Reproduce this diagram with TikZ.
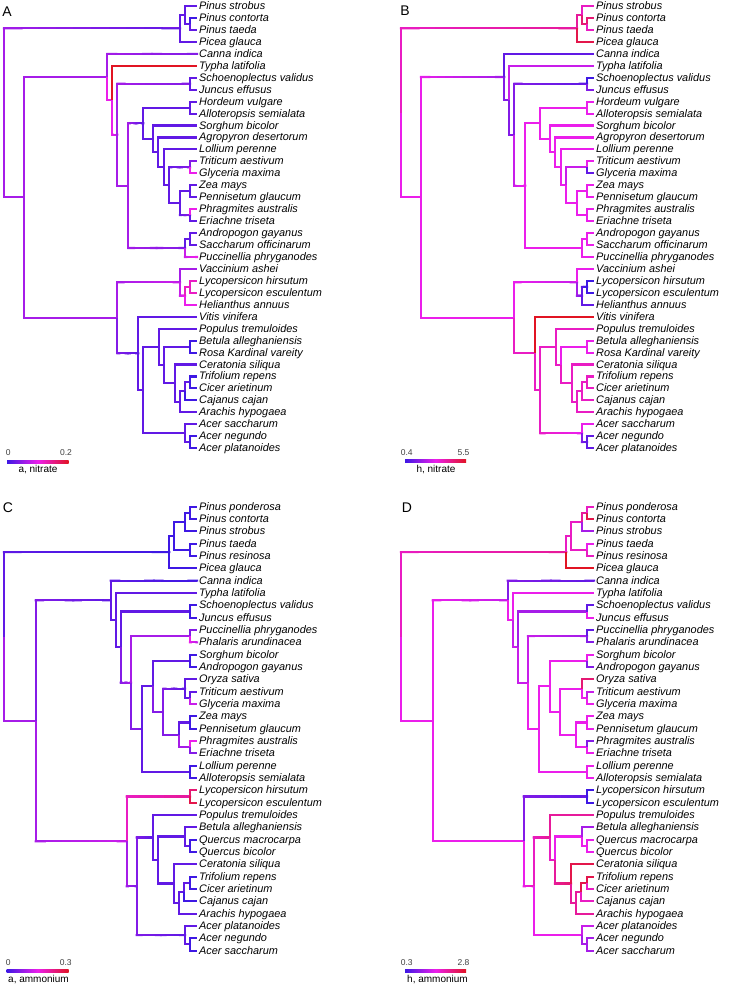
\documentclass[tikz,border=0pt]{standalone}
\usepackage{fontspec}
\setmainfont{Liberation Sans}
\usetikzlibrary{calc}
\definecolor{cB}{RGB}{62,24,228}
\definecolor{cM}{RGB}{235,30,235}
\definecolor{cR}{RGB}{225,20,35}
\colorlet{L0}{cB}
\colorlet{L1}{cM!20!cB}
\colorlet{L2}{cM!40!cB}
\colorlet{L3}{cM!60!cB}
\colorlet{L4}{cM!80!cB}
\colorlet{L5}{cM}
\colorlet{L6}{cR!20!cM}
\colorlet{L7}{cR!40!cM}
\colorlet{L8}{cR!60!cM}
\colorlet{L9}{cR!80!cM}
\colorlet{L10}{cR}
\tikzset{
  vl/.style={line width=2.1pt},
  hl/.style={line width=2.1pt,line cap=rect},
  lf/.style={anchor=west,inner xsep=2pt,inner ysep=0pt,text height=8pt,text depth=1pt,
    font=\fontsize{10.9}{12}\selectfont\itshape},
  plab/.style={font=\fontsize{14}{14}\selectfont,inner sep=0pt},
  num/.style={font=\fontsize{8.5}{9}\selectfont,text=black!75,inner sep=0pt},
  ltit/.style={font=\fontsize{10}{11}\selectfont,inner sep=0pt}
}
\newcommand\pf{a}
\newcommand\brI[4]{%
  \draw[vl,L#3] (\pf-#1) |- (\pf-#2);
  \ifnum#3=#4\relax\else
  \foreach \k in {1,...,10}{%
    \pgfmathtruncatemacro\pc{\k*10}%
    \draw[hl,L#4!\pc!L#3] ($(\pf-#1 |- \pf-#2)!{(\k-1)/10}!(\pf-#2)$) -- ($(\pf-#1 |- \pf-#2)!{\k/10}!(\pf-#2)$);}%
  \fi}
\newcommand\brL[4]{\brI{#1}{#2.west}{#3}{#4}}
\newcommand\Lf[3]{\node[lf] (\pf-#1) at (197,#2) {#3};}
\newcommand\TreeOne{%
\coordinate (\pf-R) at (4,8.947);
\coordinate (\pf-Gym) at (180,1.875);
\coordinate (\pf-P1) at (185,0.75);
\coordinate (\pf-P2) at (190,1.5);
\coordinate (\pf-Ang) at (24,16.019);
\coordinate (\pf-Mono) at (107.3,5.941);
\coordinate (\pf-X) at (112.3,7.883);
\coordinate (\pf-Y) at (117.3,10.766);
\coordinate (\pf-SJ) at (190,6.5);
\coordinate (\pf-G) at (128.3,15.031);
\coordinate (\pf-H) at (143.3,9.8125);
\coordinate (\pf-HA) at (190,8.5);
\coordinate (\pf-S) at (153.3,11.125);
\coordinate (\pf-Ag) at (158.3,12.25);
\coordinate (\pf-Lo) at (164,13.5);
\coordinate (\pf-TZ) at (169.3,15);
\coordinate (\pf-TG) at (190,13.5);
\coordinate (\pf-ZPPE) at (180,16.5);
\coordinate (\pf-ZP) at (190,15.5);
\coordinate (\pf-PE) at (190,17.5);
\coordinate (\pf-APS) at (185,20.25);
\coordinate (\pf-AS) at (190,19.5);
\coordinate (\pf-Eud) at (117.3,26.096);
\coordinate (\pf-Aster) at (180,23.125);
\coordinate (\pf-LH) at (185,24.25);
\coordinate (\pf-LL) at (190,23.5);
\coordinate (\pf-Ros) at (138.3,29.066);
\coordinate (\pf-Rest) at (143.3,32.133);
\coordinate (\pf-FB) at (159.3,28.516);
\coordinate (\pf-Q) at (164.3,30.031);
\coordinate (\pf-BR) at (190,28.5);
\coordinate (\pf-Fab) at (175,31.5625);
\coordinate (\pf-F2) at (180,33.125);
\coordinate (\pf-F3) at (185,32.25);
\coordinate (\pf-TC) at (190,31.5);
\coordinate (\pf-Acer) at (185,35.75);
\coordinate (\pf-AN) at (190,36.5);
\Lf{strobus}{0}{Pinus strobus}
\Lf{contorta}{1}{Pinus contorta}
\Lf{taeda}{2}{Pinus taeda}
\Lf{picea}{3}{Picea glauca}
\Lf{canna}{4}{Canna indica}
\Lf{typha}{5}{Typha latifolia}
\Lf{schoeno}{6}{Schoenoplectus validus}
\Lf{juncus}{7}{Juncus effusus}
\Lf{hordeum}{8}{Hordeum vulgare}
\Lf{allot}{9}{Alloteropsis semialata}
\Lf{sorghum}{10}{Sorghum bicolor}
\Lf{agropyron}{11}{Agropyron desertorum}
\Lf{lollium}{12}{Lollium perenne}
\Lf{triticum}{13}{Triticum aestivum}
\Lf{glyceria}{14}{Glyceria maxima}
\Lf{zea}{15}{Zea mays}
\Lf{penn}{16}{Pennisetum glaucum}
\Lf{phrag}{17}{Phragmites australis}
\Lf{eriachne}{18}{Eriachne triseta}
\Lf{andro}{19}{Andropogon gayanus}
\Lf{sacch}{20}{Saccharum officinarum}
\Lf{pucc}{21}{Puccinellia phryganodes}
\Lf{vacc}{22}{Vaccinium ashei}
\Lf{lycoh}{23}{Lycopersicon hirsutum}
\Lf{lycoe}{24}{Lycopersicon esculentum}
\Lf{helian}{25}{Helianthus annuus}
\Lf{vitis}{26}{Vitis vinifera}
\Lf{populus}{27}{Populus tremuloides}
\Lf{betula}{28}{Betula alleghaniensis}
\Lf{rosa}{29}{Rosa Kardinal vareity}
\Lf{cerat}{30}{Ceratonia siliqua}
\Lf{trif}{31}{Trifolium repens}
\Lf{cicer}{32}{Cicer arietinum}
\Lf{cajanus}{33}{Cajanus cajan}
\Lf{arachis}{34}{Arachis hypogaea}
\Lf{acsac}{35}{Acer saccharum}
\Lf{acneg}{36}{Acer negundo}
\Lf{acpla}{37}{Acer platanoides}
}
\newcommand\TreeTwo{%
\coordinate (\pf-R) at (4,10.53);
\coordinate (\pf-Gym) at (169.3,3.6875);
\coordinate (\pf-P) at (174,2.375);
\coordinate (\pf-PPCS) at (185,1.25);
\coordinate (\pf-PC) at (190,0.5);
\coordinate (\pf-TR) at (190,3.5);
\coordinate (\pf-Ang) at (35.7,17.370);
\coordinate (\pf-Mono) at (110.7,7.596);
\coordinate (\pf-X) at (115.7,9.191);
\coordinate (\pf-Y) at (120.7,11.383);
\coordinate (\pf-SJ) at (190,8.5);
\coordinate (\pf-Z) at (131,14.266);
\coordinate (\pf-PP) at (190,10.5);
\coordinate (\pf-W) at (141.7,18.031);
\coordinate (\pf-LA) at (190,21.5);
\coordinate (\pf-V) at (152.7,14.5625);
\coordinate (\pf-SA) at (190,12.5);
\coordinate (\pf-U) at (163.3,16.625);
\coordinate (\pf-OTG) at (185,14.75);
\coordinate (\pf-TG) at (190,15.5);
\coordinate (\pf-ZPPE) at (179.3,18.5);
\coordinate (\pf-ZP) at (190,17.5);
\coordinate (\pf-PE) at (190,19.5);
\coordinate (\pf-Eud) at (126.7,27.145);
\coordinate (\pf-LL) at (190,23.5);
\coordinate (\pf-Ros) at (136.7,30.789);
\coordinate (\pf-FB) at (152.7,26.828);
\coordinate (\pf-Q) at (158,28.656);
\coordinate (\pf-BQQ) at (185,26.75);
\coordinate (\pf-QQ) at (190,27.5);
\coordinate (\pf-Fab) at (174,30.5625);
\coordinate (\pf-F2) at (179.3,32.125);
\coordinate (\pf-F3) at (184,31.25);
\coordinate (\pf-TC) at (190,30.5);
\coordinate (\pf-Acer) at (185,34.75);
\coordinate (\pf-AN) at (190,35.5);
\Lf{ponderosa}{0}{Pinus ponderosa}
\Lf{contorta}{1}{Pinus contorta}
\Lf{strobus}{2}{Pinus strobus}
\Lf{taeda}{3}{Pinus taeda}
\Lf{resinosa}{4}{Pinus resinosa}
\Lf{picea}{5}{Picea glauca}
\Lf{canna}{6}{Canna indica}
\Lf{typha}{7}{Typha latifolia}
\Lf{schoeno}{8}{Schoenoplectus validus}
\Lf{juncus}{9}{Juncus effusus}
\Lf{pucc}{10}{Puccinellia phryganodes}
\Lf{phalaris}{11}{Phalaris arundinacea}
\Lf{sorghum}{12}{Sorghum bicolor}
\Lf{andro}{13}{Andropogon gayanus}
\Lf{oryza}{14}{Oryza sativa}
\Lf{triticum}{15}{Triticum aestivum}
\Lf{glyceria}{16}{Glyceria maxima}
\Lf{zea}{17}{Zea mays}
\Lf{penn}{18}{Pennisetum glaucum}
\Lf{phrag}{19}{Phragmites australis}
\Lf{eriachne}{20}{Eriachne triseta}
\Lf{lollium}{21}{Lollium perenne}
\Lf{allot}{22}{Alloteropsis semialata}
\Lf{lycoh}{23}{Lycopersicon hirsutum}
\Lf{lycoe}{24}{Lycopersicon esculentum}
\Lf{populus}{25}{Populus tremuloides}
\Lf{betula}{26}{Betula alleghaniensis}
\Lf{qmac}{27}{Quercus macrocarpa}
\Lf{qbic}{28}{Quercus bicolor}
\Lf{cerat}{29}{Ceratonia siliqua}
\Lf{trif}{30}{Trifolium repens}
\Lf{cicer}{31}{Cicer arietinum}
\Lf{cajanus}{32}{Cajanus cajan}
\Lf{arachis}{33}{Arachis hypogaea}
\Lf{acpla}{34}{Acer platanoides}
\Lf{acneg}{35}{Acer negundo}
\Lf{acsac}{36}{Acer saccharum}
}
\begin{document}
\begin{tikzpicture}[x=1pt,y=-1pt]
\path[use as bounding box] (0,0) rectangle (745,985);
% ---------------- Panel A
\begin{scope}[shift={(0,6)},y=-11.95pt]
\renewcommand\pf{a}
\TreeOne
\brI{R}{Gym}{3}{1}
\brI{Gym}{P1}{1}{1}
\brL{Gym}{picea}{1}{1}
\brL{P1}{strobus}{1}{1}
\brI{P1}{P2}{1}{1}
\brL{P2}{contorta}{0}{0}
\brL{P2}{taeda}{1}{1}
\brI{R}{Ang}{3}{3}
\brI{Ang}{Mono}{3}{3}
\brL{Mono}{canna}{3}{2}
\brI{Mono}{X}{5}{5}
\brL{X}{typha}{10}{10}
\brI{X}{Y}{5}{4}
\brI{Y}{SJ}{3}{2}
\brL{SJ}{schoeno}{1}{1}
\brL{SJ}{juncus}{1}{1}
\brI{Y}{G}{3}{3}
\brI{G}{H}{3}{1}
\brI{H}{HA}{1}{1}
\brL{HA}{hordeum}{1}{1}
\brL{HA}{allot}{1}{1}
\brI{H}{S}{1}{1}
\brL{S}{sorghum}{1}{1}
\brI{S}{Ag}{1}{1}
\brL{Ag}{agropyron}{1}{1}
\brI{Ag}{Lo}{1}{1}
\brL{Lo}{lollium}{1}{1}
\brI{Lo}{TZ}{1}{1}
\brI{TZ}{TG}{1}{2}
\brL{TG}{triticum}{2}{2}
\brL{TG}{glyceria}{5}{5}
\brI{TZ}{ZPPE}{1}{1}
\brI{ZPPE}{ZP}{1}{1}
\brL{ZP}{zea}{1}{1}
\brL{ZP}{penn}{1}{1}
\brI{ZPPE}{PE}{1}{2}
\brL{PE}{phrag}{5}{5}
\brL{PE}{eriachne}{1}{1}
\brI{G}{APS}{3}{2}
\brI{APS}{AS}{1}{1}
\brL{AS}{andro}{1}{1}
\brL{AS}{sacch}{1}{1}
\brL{APS}{pucc}{4}{5}
\brI{Ang}{Eud}{3}{3}
\brI{Eud}{Aster}{3}{4}
\brL{Aster}{vacc}{3}{3}
\brI{Aster}{LH}{4}{5}
\brI{LH}{LL}{6}{6}
\brL{LL}{lycoh}{6}{6}
\brL{LL}{lycoe}{6}{6}
\brL{LH}{helian}{5}{5}
\brI{Eud}{Ros}{2}{1}
\brL{Ros}{vitis}{1}{1}
\brI{Ros}{Rest}{1}{1}
\brI{Rest}{FB}{1}{1}
\brL{FB}{populus}{1}{1}
\brI{FB}{Q}{1}{1}
\brI{Q}{BR}{1}{1}
\brL{BR}{betula}{0}{0}
\brL{BR}{rosa}{0}{0}
\brI{Q}{Fab}{1}{1}
\brL{Fab}{cerat}{1}{1}
\brI{Fab}{F2}{1}{1}
\brI{F2}{F3}{1}{1}
\brI{F3}{TC}{1}{1}
\brL{TC}{trif}{0}{0}
\brL{TC}{cicer}{0}{0}
\brL{F3}{cajanus}{0}{0}
\brL{F2}{arachis}{1}{1}
\brI{Rest}{Acer}{1}{1}
\brL{Acer}{acsac}{1}{1}
\brI{Acer}{AN}{1}{1}
\brL{AN}{acneg}{0}{0}
\brL{AN}{acpla}{0}{0}
\end{scope}
% ---------------- Panel B
\begin{scope}[shift={(397,6)},y=-11.95pt]
\renewcommand\pf{b}
\TreeOne
\brI{R}{Gym}{6}{7}
\brI{Gym}{P1}{7}{7}
\brL{Gym}{picea}{9}{9}
\brL{P1}{strobus}{6}{6}
\brI{P1}{P2}{8}{8}
\brL{P2}{contorta}{8}{8}
\brL{P2}{taeda}{6}{6}
\brI{R}{Ang}{5}{5}
\brI{Ang}{Mono}{5}{3}
\brL{Mono}{canna}{1}{1}
\brI{Mono}{X}{2}{2}
\brL{X}{typha}{4}{4}
\brI{X}{Y}{2}{2}
\brI{Y}{SJ}{2}{1}
\brL{SJ}{schoeno}{0}{0}
\brL{SJ}{juncus}{2}{2}
\brI{Y}{G}{4}{5}
\brI{G}{H}{5}{5}
\brI{H}{HA}{5}{5}
\brL{HA}{hordeum}{5}{5}
\brL{HA}{allot}{5}{5}
\brI{H}{S}{5}{5}
\brL{S}{sorghum}{5}{5}
\brI{S}{Ag}{5}{5}
\brL{Ag}{agropyron}{5}{5}
\brI{Ag}{Lo}{5}{5}
\brL{Lo}{lollium}{5}{5}
\brI{Lo}{TZ}{5}{5}
\brI{TZ}{TG}{4}{4}
\brL{TG}{triticum}{5}{5}
\brL{TG}{glyceria}{1}{1}
\brI{TZ}{ZPPE}{5}{5}
\brI{ZPPE}{ZP}{5}{5}
\brL{ZP}{zea}{5}{5}
\brL{ZP}{penn}{5}{5}
\brI{ZPPE}{PE}{5}{5}
\brL{PE}{phrag}{5}{5}
\brL{PE}{eriachne}{5}{5}
\brI{G}{APS}{5}{5}
\brI{APS}{AS}{5}{5}
\brL{AS}{andro}{5}{5}
\brL{AS}{sacch}{5}{5}
\brL{APS}{pucc}{5}{5}
\brI{Ang}{Eud}{5}{5}
\brI{Eud}{Aster}{5}{4}
\brL{Aster}{vacc}{5}{5}
\brI{Aster}{LH}{3}{2}
\brI{LH}{LL}{1}{0}
\brL{LL}{lycoh}{0}{0}
\brL{LL}{lycoe}{0}{0}
\brL{LH}{helian}{1}{1}
\brI{Eud}{Ros}{6}{6}
\brL{Ros}{vitis}{10}{10}
\brI{Ros}{Rest}{6}{6}
\brI{Rest}{FB}{6}{6}
\brL{FB}{populus}{6}{6}
\brI{FB}{Q}{6}{6}
\brI{Q}{BR}{5}{5}
\brL{BR}{betula}{5}{5}
\brL{BR}{rosa}{5}{5}
\brI{Q}{Fab}{6}{6}
\brL{Fab}{cerat}{6}{6}
\brI{Fab}{F2}{6}{6}
\brI{F2}{F3}{6}{6}
\brI{F3}{TC}{6}{6}
\brL{TC}{trif}{6}{6}
\brL{TC}{cicer}{6}{6}
\brL{F3}{cajanus}{6}{6}
\brL{F2}{arachis}{6}{6}
\brI{Rest}{Acer}{6}{5}
\brL{Acer}{acsac}{5}{5}
\brI{Acer}{AN}{2}{1}
\brL{AN}{acneg}{1}{1}
\brL{AN}{acpla}{1}{1}
\end{scope}
% ---------------- Panel C
\begin{scope}[shift={(0,506.7)},y=-12.33pt]
\renewcommand\pf{c}
\TreeTwo
\brI{R}{Gym}{1}{0}
\brI{Gym}{P}{0}{0}
\brL{Gym}{picea}{0}{0}
\brI{P}{PPCS}{0}{0}
\brI{P}{TR}{0}{0}
\brI{PPCS}{PC}{0}{0}
\brL{PC}{ponderosa}{0}{0}
\brL{PC}{contorta}{0}{0}
\brL{PPCS}{strobus}{0}{0}
\brL{TR}{taeda}{0}{0}
\brL{TR}{resinosa}{0}{0}
\brI{R}{Ang}{3}{3}
\brI{Ang}{Mono}{2}{1}
\brL{Mono}{canna}{1}{0}
\brI{Mono}{X}{1}{1}
\brL{X}{typha}{1}{1}
\brI{X}{Y}{1}{1}
\brI{Y}{SJ}{1}{1}
\brL{SJ}{schoeno}{0}{0}
\brL{SJ}{juncus}{0}{0}
\brI{Y}{Z}{2}{3}
\brI{Z}{PP}{3}{3}
\brL{PP}{pucc}{2}{2}
\brL{PP}{phalaris}{5}{4}
\brI{Z}{W}{2}{2}
\brI{W}{V}{1}{1}
\brI{V}{SA}{1}{1}
\brL{SA}{sorghum}{0}{0}
\brL{SA}{andro}{0}{0}
\brI{V}{U}{2}{2}
\brI{U}{OTG}{2}{1}
\brL{OTG}{oryza}{1}{1}
\brI{OTG}{TG}{1}{1}
\brL{TG}{triticum}{1}{1}
\brL{TG}{glyceria}{4}{4}
\brI{U}{ZPPE}{2}{2}
\brI{ZPPE}{ZP}{1}{1}
\brL{ZP}{zea}{0}{0}
\brL{ZP}{penn}{0}{0}
\brI{ZPPE}{PE}{3}{3}
\brL{PE}{phrag}{5}{5}
\brL{PE}{eriachne}{2}{2}
\brI{W}{LA}{1}{1}
\brL{LA}{lollium}{0}{0}
\brL{LA}{allot}{0}{0}
\brI{Ang}{Eud}{3}{4}
\brI{Eud}{LL}{6}{7}
\brL{LL}{lycoh}{8}{8}
\brL{LL}{lycoe}{9}{9}
\brI{Eud}{Ros}{3}{2}
\brI{Ros}{FB}{2}{1}
\brL{FB}{populus}{1}{1}
\brI{FB}{Q}{1}{1}
\brI{Q}{BQQ}{1}{1}
\brL{BQQ}{betula}{1}{1}
\brI{BQQ}{QQ}{1}{1}
\brL{QQ}{qmac}{0}{0}
\brL{QQ}{qbic}{0}{0}
\brI{Q}{Fab}{1}{1}
\brL{Fab}{cerat}{1}{1}
\brI{Fab}{F2}{1}{1}
\brI{F2}{F3}{1}{1}
\brI{F3}{TC}{1}{1}
\brL{TC}{trif}{0}{0}
\brL{TC}{cicer}{0}{0}
\brL{F3}{cajanus}{0}{0}
\brL{F2}{arachis}{1}{1}
\brI{Ros}{Acer}{2}{1}
\brL{Acer}{acpla}{1}{1}
\brI{Acer}{AN}{1}{1}
\brL{AN}{acneg}{0}{0}
\brL{AN}{acsac}{0}{0}
\end{scope}
% ---------------- Panel D
\begin{scope}[shift={(397,506.7)},y=-12.33pt]
\renewcommand\pf{d}
\TreeTwo
\brI{R}{Gym}{6}{7}
\brI{Gym}{P}{6}{6}
\brL{Gym}{picea}{10}{10}
\brI{P}{PPCS}{6}{6}
\brI{P}{TR}{6}{6}
\brI{PPCS}{PC}{7}{7}
\brL{PC}{ponderosa}{6}{6}
\brL{PC}{contorta}{9}{9}
\brL{PPCS}{strobus}{3}{3}
\brL{TR}{taeda}{5}{5}
\brL{TR}{resinosa}{6}{6}
\brI{R}{Ang}{5}{5}
\brI{Ang}{Mono}{5}{4}
\brL{Mono}{canna}{2}{1}
\brI{Mono}{X}{5}{5}
\brL{X}{typha}{5}{5}
\brI{X}{Y}{4}{4}
\brI{Y}{SJ}{3}{3}
\brL{SJ}{schoeno}{1}{1}
\brL{SJ}{juncus}{5}{5}
\brI{Y}{Z}{4}{4}
\brI{Z}{PP}{4}{3}
\brL{PP}{pucc}{1}{1}
\brL{PP}{phalaris}{2}{2}
\brI{Z}{W}{5}{5}
\brI{W}{V}{5}{5}
\brI{V}{SA}{5}{5}
\brL{SA}{sorghum}{5}{5}
\brL{SA}{andro}{2}{2}
\brI{V}{U}{5}{5}
\brI{U}{OTG}{5}{5}
\brL{OTG}{oryza}{8}{8}
\brI{OTG}{TG}{5}{5}
\brL{TG}{triticum}{4}{4}
\brL{TG}{glyceria}{5}{5}
\brI{U}{ZPPE}{5}{5}
\brI{ZPPE}{ZP}{5}{5}
\brL{ZP}{zea}{5}{5}
\brL{ZP}{penn}{5}{5}
\brI{ZPPE}{PE}{5}{5}
\brL{PE}{phrag}{2}{2}
\brL{PE}{eriachne}{5}{5}
\brI{W}{LA}{5}{5}
\brL{LA}{lollium}{5}{5}
\brL{LA}{allot}{5}{5}
\brI{Ang}{Eud}{5}{5}
\brI{Eud}{LL}{2}{1}
\brL{LL}{lycoh}{0}{0}
\brL{LL}{lycoe}{0}{0}
\brI{Eud}{Ros}{5}{6}
\brI{Ros}{FB}{6}{7}
\brL{FB}{populus}{7}{7}
\brI{FB}{Q}{6}{6}
\brI{Q}{BQQ}{5}{5}
\brL{BQQ}{betula}{3}{3}
\brI{BQQ}{QQ}{5}{5}
\brL{QQ}{qmac}{5}{5}
\brL{QQ}{qbic}{5}{5}
\brI{Q}{Fab}{7}{8}
\brL{Fab}{cerat}{9}{9}
\brI{Fab}{F2}{7}{7}
\brI{F2}{F3}{7}{7}
\brI{F3}{TC}{9}{9}
\brL{TC}{trif}{9}{9}
\brL{TC}{cicer}{6}{6}
\brL{F3}{cajanus}{6}{6}
\brL{F2}{arachis}{7}{7}
\brI{Ros}{Acer}{5}{5}
\brL{Acer}{acpla}{4}{4}
\brI{Acer}{AN}{3}{3}
\brL{AN}{acneg}{3}{3}
\brL{AN}{acsac}{3}{3}
\end{scope}
% ---------------- panel letters
\node[plab] (labA) at (7,12) {A};
\node[plab] (labB) at (405,11) {B};
\node[plab] (labC) at (8,508) {C};
\node[plab] (labD) at (407,508) {D};
% ---------------- legends
\shade[left color=cB,right color=cR,middle color=cM] (7,460.3) rectangle (68.5,463);
\node[num] (ka0) at (8.3,453) {0};
\node[num] (ka1) at (66,453) {0.2};
\node[ltit] (kat) at (38,470) {a, nitrate};
\shade[left color=cB,right color=cR,middle color=cM] (405,459.3) rectangle (466,462);
\node[num] (kb0) at (406.7,452.5) {0.4};
\node[num] (kb1) at (463.5,452.5) {5.5};
\node[ltit] (kbt) at (436,469.5) {h, nitrate};
\shade[left color=cB,right color=cR,middle color=cM] (6.7,969.3) rectangle (68.5,972);
\node[num] (kc0) at (8.3,962.5) {0};
\node[num] (kc1) at (65.7,962.5) {0.3};
\node[ltit] (kct) at (38.5,979.5) {a, ammonium};
\shade[left color=cB,right color=cR,middle color=cM] (405,969.5) rectangle (466,972.2);
\node[num] (kd0) at (406.7,963) {0.3};
\node[num] (kd1) at (463.5,963) {2.8};
\node[ltit] (kdt) at (437.5,979.5) {h, ammonium};
\end{tikzpicture}
\end{document}
